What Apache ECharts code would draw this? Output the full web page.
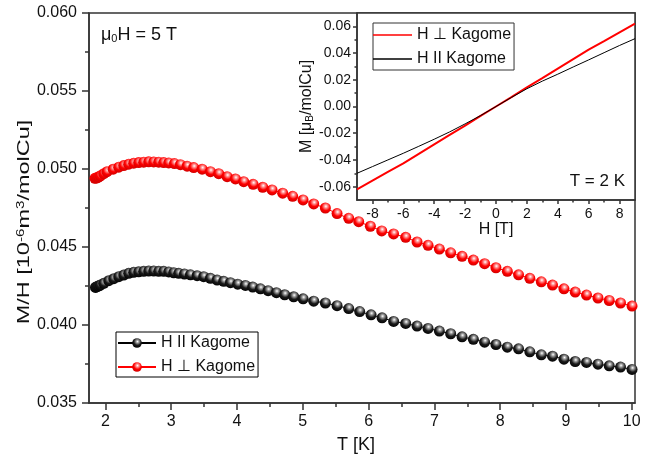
<!DOCTYPE html>
<html><head><meta charset="utf-8">
<script src="https://cdn.jsdelivr.net/npm/echarts@6/dist/echarts.min.js"></script>
<style>html,body{margin:0;padding:0;background:#fff}#c{width:660px;height:460px}</style>
</head><body><div id="c"></div>
<script>
const FONT = "'Liberation Sans', Arial, Helvetica, sans-serif";

// Main panel: M/H vs T at mu0H = 5 T
const perpT = [1.84,1.86,1.88,1.90,1.925,1.975,2.025,2.117,2.202,2.278,2.354,2.430,2.506,2.582,2.658,2.734,2.810,2.886,2.962,3.049,3.140,3.242,3.342,3.470,3.596,3.722,3.850,3.976,4.102,4.245,4.391,4.533,4.694,4.846,5.004,5.166,5.343,5.521,5.698,5.850,6.027,6.200,6.380,6.564,6.737,6.904,7.076,7.248,7.421,7.593,7.764,7.936,8.109,8.280,8.451,8.626,8.796,8.970,9.141,9.313,9.487,9.658,9.830,10.005];
const perpM = [0.04940,0.04942,0.04945,0.04950,0.04956,0.04970,0.04983,0.04999,0.05012,0.05022,0.05031,0.05037,0.05041,0.05044,0.05046,0.05045,0.05044,0.05041,0.05039,0.05035,0.05028,0.05018,0.05009,0.04999,0.04983,0.04970,0.04951,0.04936,0.04919,0.04902,0.04883,0.04866,0.04845,0.04825,0.04802,0.04776,0.04750,0.04714,0.04684,0.04662,0.04633,0.04603,0.04584,0.04562,0.04532,0.04511,0.04487,0.04463,0.04440,0.04416,0.04393,0.04367,0.04344,0.04322,0.04299,0.04277,0.04256,0.04232,0.04211,0.04192,0.04173,0.04157,0.04141,0.04121];
const parT = [1.848,1.86,1.88,1.90,1.924,1.975,2.05,2.126,2.202,2.278,2.354,2.430,2.506,2.582,2.658,2.734,2.810,2.886,2.962,3.038,3.114,3.201,3.292,3.394,3.494,3.596,3.698,3.798,3.900,4.011,4.128,4.239,4.356,4.473,4.599,4.725,4.862,5.005,5.166,5.343,5.521,5.698,5.865,6.038,6.205,6.381,6.564,6.737,6.904,7.076,7.248,7.421,7.593,7.764,7.936,8.109,8.280,8.451,8.626,8.796,8.970,9.141,9.313,9.487,9.658,9.830,10.005];
const parM = [0.04241,0.04244,0.04248,0.04251,0.04256,0.04267,0.04284,0.04297,0.04310,0.04320,0.04331,0.04338,0.04341,0.04344,0.04346,0.04346,0.04344,0.04344,0.04340,0.04335,0.04331,0.04327,0.04322,0.04316,0.04310,0.04299,0.04288,0.04280,0.04271,0.04262,0.04254,0.04243,0.04232,0.04220,0.04207,0.04194,0.04181,0.04168,0.04153,0.04141,0.04124,0.04105,0.04086,0.04065,0.04046,0.04023,0.04010,0.03993,0.03978,0.03961,0.03944,0.03924,0.03908,0.03890,0.03875,0.03858,0.03847,0.03828,0.03809,0.03800,0.03781,0.03766,0.03760,0.03749,0.03738,0.03730,0.03715];

// Inset: M vs H at T = 2 K
const insetH    = [-9,-8,-7,-6,-5,-4,-3,-2,-1,0,1,2,3,4,5,6,7,8,9];
const insetPerp = [-0.0620,-0.0555,-0.0490,-0.0426,-0.0355,-0.0284,-0.0213,-0.0143,-0.0070,0,0.0070,0.0143,0.0213,0.0284,0.0355,0.0426,0.0490,0.0555,0.0620];
const insetPar  = [-0.0500,-0.0450,-0.0400,-0.0350,-0.0298,-0.0245,-0.0190,-0.0130,-0.0068,0,0.0068,0.0133,0.0190,0.0242,0.0296,0.0349,0.0403,0.0457,0.0508];

// Tick values
const mainXTicks = [2,3,4,5,6,7,8,9,10];
const mainXMinor = [2.5,3.5,4.5,5.5,6.5,7.5,8.5,9.5];
const mainYTicks = [0.035,0.040,0.045,0.050,0.055,0.060];
const mainYMinor = [0.0375,0.0425,0.0475,0.0525,0.0575];
const insetXTicks = [-8,-6,-4,-2,0,2,4,6,8];
const insetXMinor = [-7,-5,-3,-1,1,3,5,7];
const insetYTicks = [-0.06,-0.04,-0.02,0,0.02,0.04,0.06];
const insetYMinor = [-0.05,-0.03,-0.01,0.01,0.03,0.05];

const names = {
  mainPar: 'H II Kagome', mainPerp: 'H \u22A5 Kagome',
  insPerp: 'H \u22A5 Kagome', insPar: 'H II Kagome'
};

const zip = (a, b) => a.map((v, i) => [v, b[i]]);
const AX = '#333';

function sphere(light, mid, dark) {
  return {type:'radial', x:0.55, y:0.35, r:0.7, colorStops:[
    {offset:0, color:'#ffffff'}, {offset:0.22, color:light},
    {offset:0.55, color:mid}, {offset:1, color:dark}]};
}

function valAxis(grid, min, max, ticks, fmt, tickLen, labelSize, margin, extra) {
  return Object.assign({
    gridIndex: grid, type:'value', min:min, max:max,
    axisLine:{show:true, onZero:false, lineStyle:{color:AX, width:1.5}},
    axisTick:{show:true, customValues:ticks, length:tickLen, lineStyle:{color:AX, width:1.5}},
    axisLabel:{show:true, customValues:ticks, formatter:fmt, fontSize:labelSize, color:'#111', margin:margin, fontFamily:FONT},
    splitLine:{show:false}
  }, extra || {});
}
function minorAxis(grid, min, max, ticks, len, pos) {
  return {
    gridIndex: grid, type:'value', min:min, max:max, position:pos,
    axisLine:{show:false, onZero:false}, axisLabel:{show:false}, splitLine:{show:false},
    axisTick:{show:true, customValues:ticks, length:len, lineStyle:{color:AX, width:1.5}}
  };
}

const chart = echarts.init(document.getElementById('c'), null, {renderer:'canvas'});
chart.setOption({
  animation:false,
  backgroundColor:'#fff',
  textStyle:{fontFamily:FONT},
  grid:[
    {left:89, top:13, right:25, bottom:57, show:true, borderColor:AX, borderWidth:1.5, backgroundColor:'transparent'},
    {left:357, top:13, right:25, bottom:260, show:true, borderColor:AX, borderWidth:1.5, backgroundColor:'#fff'}
  ],
  xAxis:[
    valAxis(0, 1.75, 10.05, mainXTicks, v => String(v), 7, 16, 11, {
      position:'bottom', name:'T [K]', nameLocation:'middle', nameGap:33,
      nameTextStyle:{fontSize:18, color:'#111', fontFamily:FONT, padding:[0,12,0,0]}}),
    minorAxis(0, 1.75, 10.05, mainXMinor, 4, 'bottom'),
    valAxis(1, -9, 9, insetXTicks, v => String(v), 4, 14, 7, {
      position:'bottom', name:'H [T]', nameLocation:'middle', nameGap:21,
      nameTextStyle:{fontSize:16, color:'#111', fontFamily:FONT}}),
    minorAxis(1, -9, 9, insetXMinor, 2.5, 'bottom')
  ],
  yAxis:[
    valAxis(0, 0.035, 0.060, mainYTicks, v => v.toFixed(3), 7, 16, 12, {position:'left'}),
    minorAxis(0, 0.035, 0.060, mainYMinor, 4, 'left'),
    valAxis(1, -0.07, 0.07, insetYTicks, v => v.toFixed(2), 4, 14, 6, {
      position:'left', name:'M [\u03BC{sub|B}/molCu]', nameLocation:'middle', nameGap:42,
      nameTextStyle:{fontSize:16, color:'#111', fontFamily:FONT,
        rich:{sub:{fontSize:10, verticalAlign:'bottom', color:'#111', fontFamily:FONT}}}}),
    minorAxis(1, -0.07, 0.07, insetYMinor, 2.5, 'left')
  ],
  legend:[
    {left:116, top:332, orient:'vertical', selectedMode:false,
     data:['mainPar','mainPerp'], formatter: n => names[n],
     itemWidth:38, itemHeight:12, itemGap:8, padding:[3,3,2,1],
     borderColor:'#000', borderWidth:1, backgroundColor:'#fff', borderRadius:0,
     textStyle:{fontSize:16, color:'#111', fontFamily:FONT}},
    {left:373, top:23, orient:'vertical', selectedMode:false,
     data:['insPerp','insPar'], formatter: n => names[n],
     icon:'rect', itemWidth:39, itemHeight:1.5, itemGap:8, padding:[4,3,3,0],
     borderColor:'#333', borderWidth:1, backgroundColor:'#fff', borderRadius:0,
     textStyle:{fontSize:16, color:'#111', fontFamily:FONT}}
  ],
  graphic:[
    {type:'text', x:24, y:222, rotation:Math.PI/2, scaleX:1.38, z:100, style:{
      text:'M/H [10{sup|-6}m{sup|3}/molCu]', fontSize:17, fill:'#111', fontFamily:FONT,
      align:'center', verticalAlign:'middle',
      rich:{sup:{fontSize:11, verticalAlign:'top', fill:'#111', fontFamily:FONT}}}},
    {type:'text', left:101, top:26, z:100, style:{
      text:'\u03BC{sub|0}H = 5 T', fontSize:18, fill:'#111', fontFamily:FONT,
      rich:{sub:{fontSize:11, verticalAlign:'bottom', fill:'#111', fontFamily:FONT}}}},
    {type:'text', right:35, top:173, z:100, style:{
      text:'T = 2 K', fontSize:17, fill:'#111', fontFamily:FONT}}
  ],
  series:[
    {name:'mainPar', type:'line', xAxisIndex:0, yAxisIndex:0, data:zip(parT, parM),
     symbol:'circle', symbolSize:11, showSymbol:true,
     itemStyle:{color:sphere('#9a9a9a','#1a1a1a','#000'), borderWidth:0},
     lineStyle:{color:'#000', width:1}, z:3},
    {name:'mainPerp', type:'line', xAxisIndex:0, yAxisIndex:0, data:zip(perpT, perpM),
     symbol:'circle', symbolSize:11, showSymbol:true,
     itemStyle:{color:sphere('#ff9090','#ff0000','#c80000'), borderWidth:0},
     lineStyle:{color:'#ff0000', width:1}, z:3},
    {name:'insPerp', type:'line', xAxisIndex:2, yAxisIndex:2, data:zip(insetH, insetPerp),
     symbol:'none', lineStyle:{color:'#ff0000', width:2}, itemStyle:{color:'#ff0000'}, z:4},
    {name:'insPar', type:'line', xAxisIndex:2, yAxisIndex:2, data:zip(insetH, insetPar),
     symbol:'none', lineStyle:{color:'#000', width:1}, itemStyle:{color:'#000'}, z:4}
  ]
});
</script></body></html>
